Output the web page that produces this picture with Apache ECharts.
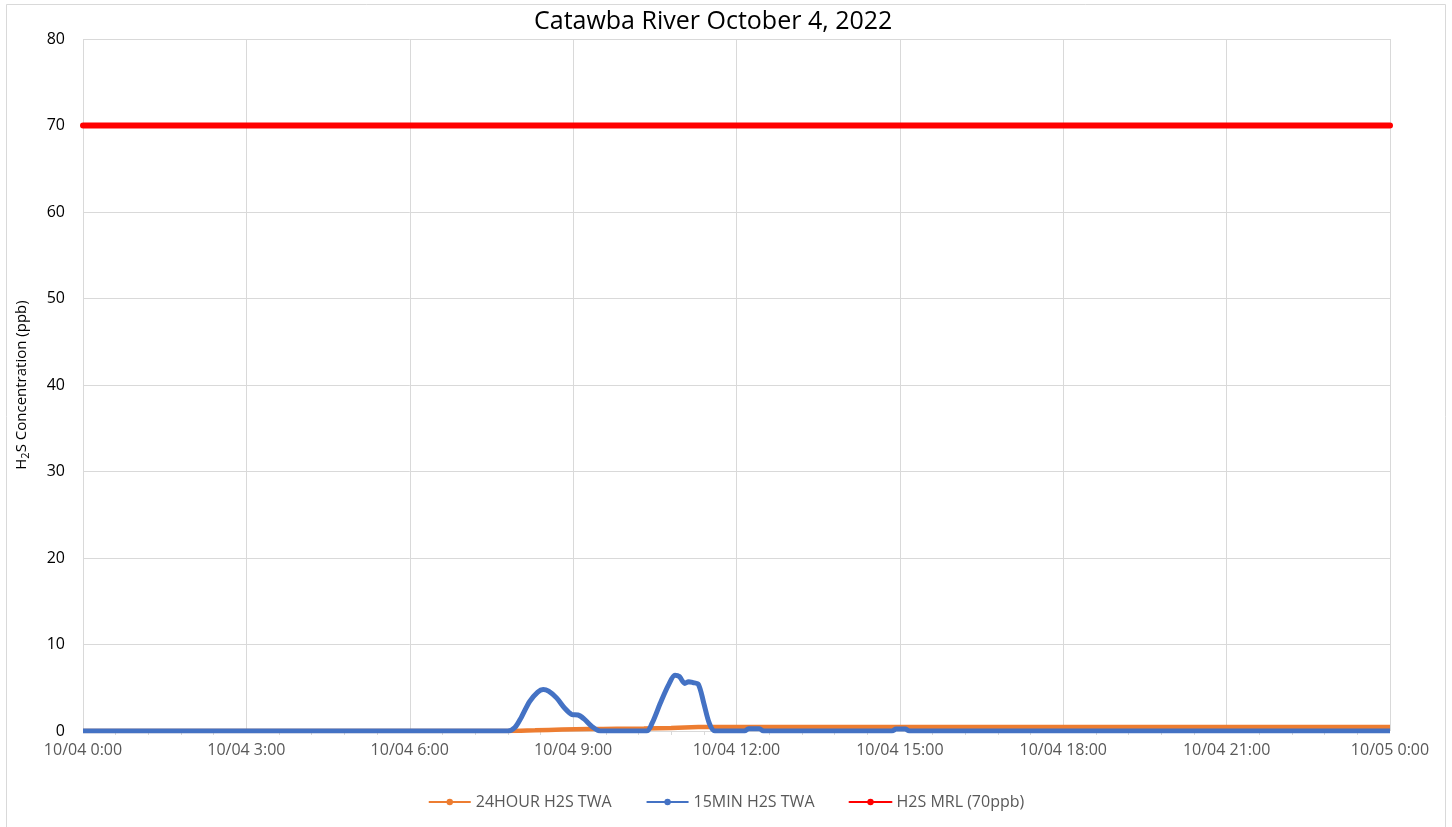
<!DOCTYPE html>
<html lang="en">
<head>
    <meta charset="UTF-8">
    <title>Catawba River October 4, 2022</title>
    <script type="text/javascript" src="https://cdn.jsdelivr.net/npm/echarts@6/dist/echarts.min.js"></script>
    <style>
        html, body { margin: 0; padding: 0; background: #fff; }
        #main { width: 1452px; height: 827px; }
    </style>
</head>
<body>
<div id="main"></div>

<script>
    // hours since 10/04 0:00, value in ppb
    var hours15 = [0, 7.8, 7.93, 8.05, 8.2, 8.35, 8.45, 8.55, 8.7, 8.85, 8.98, 9.09, 9.2, 9.35, 9.5, 10.35, 10.45, 10.6, 10.75, 10.87, 10.95, 11.05, 11.12, 11.2, 11.3, 11.4, 11.5, 11.6, 12.15, 12.22, 12.42, 12.5, 14.85, 14.93, 15.1, 15.18, 24];
    var values15 = [0, 0, 0.4, 1.6, 3.4, 4.5, 4.8, 4.6, 3.8, 2.6, 1.9, 1.85, 1.4, 0.5, 0, 0, 0.9, 3.2, 5.3, 6.45, 6.3, 5.5, 5.7, 5.6, 5.4, 3.2, 0.9, 0, 0, 0.25, 0.25, 0, 0, 0.22, 0.22, 0, 0];

    var hours24 = [0, 7.8, 8.3, 8.8, 9.3, 9.8, 10.3, 10.8, 11.3, 11.7, 24];
    var values24 = [0, 0, 0.08, 0.17, 0.22, 0.25, 0.28, 0.36, 0.45, 0.47, 0.47];

    var hoursMrl = [0, 24];
    var valuesMrl = [70, 70];

    var xTicks = [0, 3, 6, 9, 12, 15, 18, 21, 24];
    var yTicks = [0, 10, 20, 30, 40, 50, 60, 70, 80];

    function pairs(xs, ys) {
        var out = [];
        for (var i = 0; i < xs.length; i++) {
            out.push([xs[i], ys[i]]);
        }
        return out;
    }

    var myChart = echarts.init(document.getElementById('main'));

    var option = {
        backgroundColor: '#fff',
        animation: false,
        title: {
            text: 'Catawba River October 4, 2022',
            left: 529,
            top: 4,
            textStyle: {
                fontFamily: 'Open Sans',
                fontSize: 25,
                fontWeight: 'normal',
                color: '#000'
            }
        },
        graphic: [{
            type: 'rect',
            shape: {x: 6.5, y: 4.5, width: 1439, height: 830},
            style: {fill: 'none', stroke: '#d9d9d9', lineWidth: 1},
            silent: true
        }],
        legend: {
            bottom: 12,
            left: 'center',
            itemGap: 34,
            itemWidth: 42,
            itemHeight: 8,
            textStyle: {
                fontFamily: 'Open Sans',
                fontSize: 16,
                color: '#595959'
            },
            data: ['24HOUR H2S TWA', '15MIN H2S TWA', 'H2S MRL (70ppb)']
        },
        grid: {
            left: 83,
            right: 62,
            top: 39,
            bottom: 96
        },
        xAxis: {
            type: 'value',
            min: 0,
            max: 24,
            interval: 3,
            axisLine: {show: false},
            axisTick: {show: false},
            minorTick: {
                show: true,
                splitNumber: 5,
                length: 4,
                lineStyle: {color: '#d9d9d9'}
            },
            splitLine: {
                show: true,
                lineStyle: {color: '#d9d9d9', width: 1}
            },
            axisLabel: {
                margin: 11,
                fontFamily: 'Open Sans',
                fontSize: 16,
                color: '#595959',
                showMaxLabel: true,
                formatter: function (v) {
                    if (xTicks.indexOf(v) < 0) return '';
                    return v === 24 ? '10/05 0:00' : '10/04 ' + v + ':00';
                }
            }
        },
        yAxis: {
            type: 'value',
            min: 0,
            max: 80,
            interval: 10,
            name: '{a|H}{s|2}{a|S Concentration (ppb)}',
            nameLocation: 'middle',
            nameGap: 52,
            nameRotate: 90,
            nameTextStyle: {
                rich: {
                    a: {fontFamily: 'Open Sans', fontSize: 15, color: '#000'},
                    s: {fontFamily: 'Open Sans', fontSize: 11, color: '#000', verticalAlign: 'bottom', padding: [8, 0, 0, 0]}
                }
            },
            axisLine: {show: false},
            axisTick: {show: false},
            splitLine: {
                lineStyle: {color: '#d9d9d9', width: 1}
            },
            axisLabel: {
                margin: 18,
                fontFamily: 'Open Sans',
                fontSize: 16,
                color: '#000',
                formatter: function (v) {
                    return yTicks.indexOf(v) >= 0 ? v : '';
                }
            }
        },
        series: [{
            name: '24HOUR H2S TWA',
            type: 'line',
            smooth: 0.3,
            symbol: 'circle',
            symbolSize: 7,
            showSymbol: false,
            color: '#ED7D31',
            lineStyle: {width: 4.5, color: '#ED7D31'},
            data: pairs(hours24, values24),
            z: 3
        }, {
            name: '15MIN H2S TWA',
            type: 'line',
            smooth: 0.3,
            symbol: 'circle',
            symbolSize: 7,
            showSymbol: false,
            color: '#4472C4',
            lineStyle: {width: 5, color: '#4472C4'},
            data: pairs(hours15, values15),
            z: 4
        }, {
            name: 'H2S MRL (70ppb)',
            type: 'line',
            symbol: 'circle',
            symbolSize: 8,
            showSymbol: false,
            color: '#FF0000',
            lineStyle: {width: 6, color: '#FF0000', cap: 'round'},
            data: pairs(hoursMrl, valuesMrl),
            z: 5
        }]
    };

    myChart.setOption(option);
</script>
</body>
</html>
